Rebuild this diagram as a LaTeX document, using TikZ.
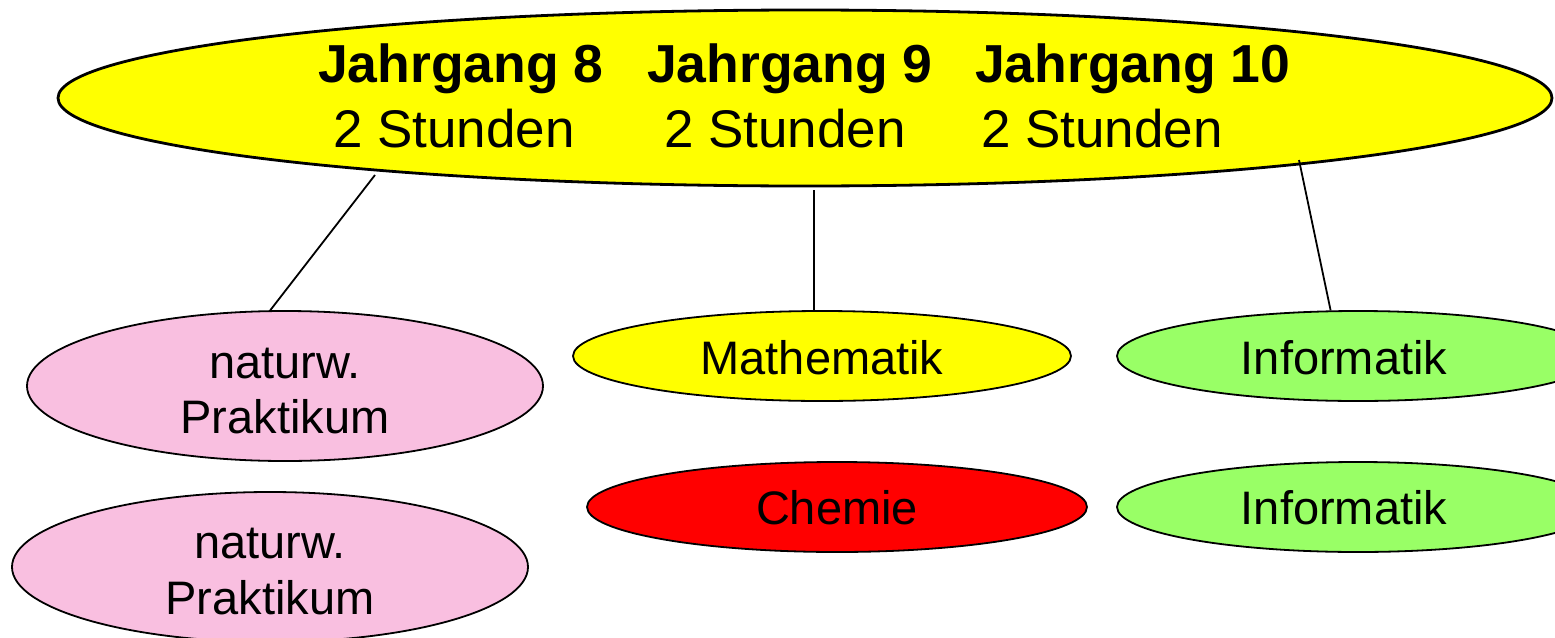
\documentclass[tikz,border=0pt]{standalone}
\usepackage{fontspec}
\setmainfont{Liberation Sans}
\usetikzlibrary{shapes.geometric}
\definecolor{ygelb}{RGB}{255,255,0}
\definecolor{prosa}{RGB}{249,191,224}
\definecolor{hgruen}{RGB}{153,255,102}
\definecolor{rrot}{RGB}{255,0,0}
\tikzset{
  blob/.style={ellipse, draw=black, line width=1.8pt, inner sep=0pt},
  bigtxt/.style={font=\fontsize{53}{60}\selectfont, inner sep=0pt, anchor=base west},
  smalltxt/.style={font=\fontsize{47}{57}\selectfont, inner sep=0pt, anchor=base, align=center},
  conn/.style={line width=1.8pt}
}
\begin{document}
\begin{tikzpicture}[x=1pt,y=-1pt]
\useasboundingbox (0,0) rectangle (1555,637);
\clip (0,0) rectangle (1555,637);
% top ellipse
\node[blob, line width=2.8pt, fill=ygelb, minimum width=1494pt, minimum height=176pt] (top) at (805,98) {};
\node[bigtxt, font=\fontsize{53.5}{60}\selectfont\bfseries] (j8) at (318,82) {Jahrgang 8};
\node[bigtxt, font=\fontsize{53.5}{60}\selectfont\bfseries] (j9) at (647,82) {Jahrgang 9};
\node[bigtxt, font=\fontsize{53.5}{60}\selectfont\bfseries] (j10) at (975,82) {Jahrgang 10};
\node[bigtxt] (s8) at (333,147) {2 Stunden};
\node[bigtxt] (s9) at (664,147) {2 Stunden};
\node[bigtxt] (s10) at (981,147) {2 Stunden};
% child ellipses
\node[blob, fill=prosa, minimum width=516pt, minimum height=150pt] (p1) at (285,386) {};
\node[blob, fill=prosa, minimum width=516pt, minimum height=150pt] (p2) at (270,567) {};
\node[blob, fill=ygelb, minimum width=498pt, minimum height=90pt] (ma) at (822,356) {};
\node[blob, fill=rrot, minimum width=500pt, minimum height=90pt] (ch) at (837,507) {};
\node[blob, fill=hgruen, minimum width=482pt, minimum height=90pt] (in1) at (1358,356) {};
\node[blob, fill=hgruen, minimum width=482pt, minimum height=90pt] (in2) at (1358,507) {};
% texts
\node[smalltxt] (tp1a) at (285,378) {naturw.};
\node[smalltxt] (tp1b) at (285,433) {Praktikum};
\node[smalltxt] (tp2a) at (270,558) {naturw.};
\node[smalltxt] (tp2b) at (270,614) {Praktikum};
\node[smalltxt] (tma) at (822,374) {Mathematik};
\node[smalltxt] (tch) at (837,524) {Chemie};
\node[smalltxt] (tin1) at (1344,374) {Informatik};
\node[smalltxt] (tin2) at (1344,524) {Informatik};
% connectors
\coordinate (c1) at (375,175);
\coordinate (c2) at (814,190);
\coordinate (c3) at (1299,160);
\draw[conn] (c1) -- (p1.101);
\draw[conn] (c2) -- (ma.100);
\draw[conn] (c3) -- (in1.121);
\end{tikzpicture}
\end{document}
